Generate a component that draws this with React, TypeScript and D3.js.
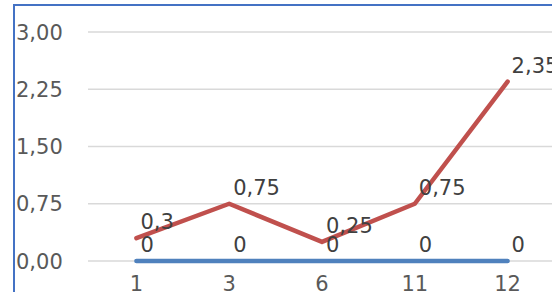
import React from 'react';
import { scaleBand, scaleLinear, line } from 'd3';

const categories = ['1', '3', '6', '11', '12'];
const seriesZero = [0, 0, 0, 0, 0];
const seriesRed = [0.3, 0.75, 0.25, 0.75, 2.35];
const yTicks = [0, 0.75, 1.5, 2.25, 3];

const W = 552;
const H = 292;
const font = '"DejaVu Sans", Verdana, sans-serif';

const fmt = (v: number, digits?: number) =>
  (digits === undefined ? String(v) : v.toFixed(digits)).replace('.', ',');

const App = () => {
  const x = scaleBand<string>().domain(categories).range([90, 554]);
  const y = scaleLinear().domain([0, 3]).range([261, 32]);
  const cx = (c: string) => (x(c) as number) + x.bandwidth() / 2;

  const path = line<number>()
    .x((d, i) => cx(categories[i]))
    .y(d => y(d));

  const labels = (vals: number[], key: string) =>
    vals.map((v, i) => (
      <text
        key={key + i}
        x={cx(categories[i]) + 4}
        y={y(v) - 9}
        fontSize={21}
        fill="#404040"
        fontFamily={font}
      >
        {fmt(v)}
      </text>
    ));

  return (
    <svg
      width={W}
      height={H}
      style={{ position: 'absolute', left: 0, top: 0, background: '#fff' }}
    >
      {/* chart border, cropped */}
      <path d={`M14,${H} V5 H${W}`} fill="none" stroke="#4472C4" strokeWidth={2} />

      {yTicks.map(t => (
        <g key={t}>
          <line x1={88} x2={W} y1={y(t)} y2={y(t)} stroke="#D9D9D9" strokeWidth={1.5} />
          <text
            x={16}
            y={y(t)}
            dy="0.36em"
            fontSize={21}
            fill="#595959"
            fontFamily={font}
          >
            {fmt(t, 2)}
          </text>
        </g>
      ))}

      {categories.map(c => (
        <text
          key={c}
          x={cx(c)}
          y={291}
          textAnchor="middle"
          fontSize={21}
          fill="#595959"
          fontFamily={font}
        >
          {c}
        </text>
      ))}

      <path
        d={path(seriesZero) || ''}
        fill="none"
        stroke="#4F81BD"
        strokeWidth={4.5}
        strokeLinecap="round"
        strokeLinejoin="round"
      />
      <path
        d={path(seriesRed) || ''}
        fill="none"
        stroke="#C0504D"
        strokeWidth={4.5}
        strokeLinecap="round"
        strokeLinejoin="round"
      />

      {labels(seriesRed, 'r')}
      {labels(seriesZero, 'b')}
    </svg>
  );
};

export default App;
